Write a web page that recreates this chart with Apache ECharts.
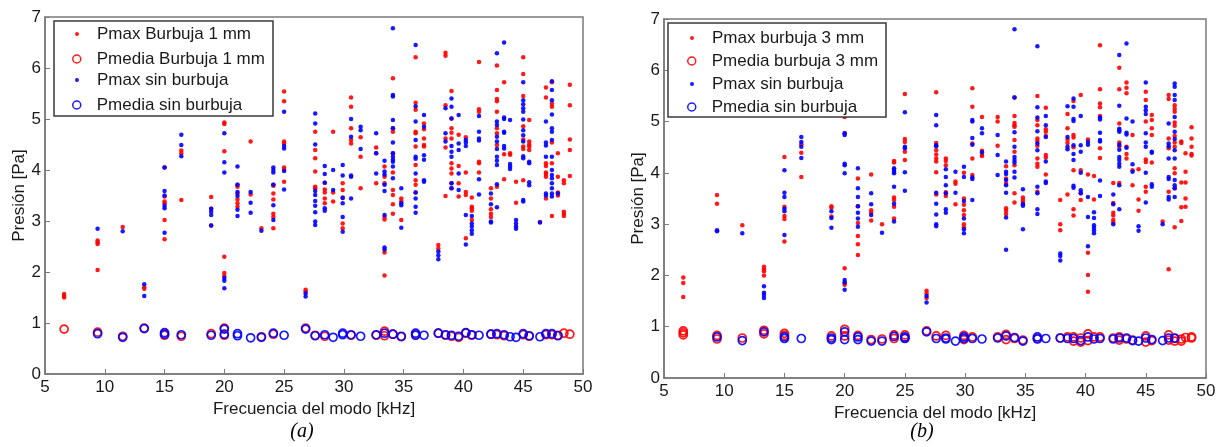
<!DOCTYPE html>
<html><head><meta charset="utf-8">
<script src="https://cdn.jsdelivr.net/npm/echarts@6/dist/echarts.min.js"></script>
<style>html,body{margin:0;padding:0;background:#fff}#c{width:1227px;height:447px}</style>
</head><body><div id="c"></div>
<script>
// x ticks / y ticks
const xTicks = [5,10,15,20,25,30,35,40,45,50];
const yTicks = [0,1,2,3,4,5,6,7];
const seriesNamesA = ['Pmax Burbuja 1 mm','Pmedia Burbuja 1 mm','Pmax sin burbuja','Pmedia sin burbuja'];
const seriesNamesB = ['Pmax burbuja 3 mm','Pmedia burbuja 3 mm','Pmax sin burbuja','Pmedia sin burbuja'];

// Panel (a): [frequency kHz, [pressures Pa]]
const aPmaxB1 = [
[6.6,[1.50,1.53,1.57]],[9.4,[2.62,2.58,2.55,2.04]],[11.5,[2.88]],[13.3,[1.70,1.67]],
[15.0,[4.05,3.48,3.38,3.35,3.02,2.64]],[16.4,[4.38,4.33,3.41]],[18.9,[3.47,3.24,2.91]],
[20.0,[4.93,4.90,4.37,2.30,1.98,1.92]],[21.1,[3.71,3.67,3.54,3.42,3.35,3.28]],[22.2,[4.56,3.52]],
[23.1,[2.86]],[24.1,[3.71,3.69,3.54,3.42,3.14,3.08,2.86]],[25.0,[5.54,5.35,4.56,4.52,4.05,4.00,3.77]],
[26.8,[1.65,1.62]],[27.6,[4.75,4.39,4.23,3.97,3.67,3.64]],[28.4,[3.75,3.62,3.56,3.44,3.35]],
[29.1,[4.75,3.56,3.38]],[29.9,[3.74,3.61,3.46,2.95,2.86]],[30.6,[5.42,5.24,4.82,4.59,4.52]],
[31.4,[4.64,4.26,3.64]],[32.7,[4.44,4.33,3.74]],[33.4,[4.07,3.87,3.74,3.08,3.03,2.38,1.93]],
[34.1,[5.80,4.82,4.75,4.33,3.95,3.61,3.51,3.33,3.14]],[34.8,[3.44,3.38,3.02]],
[36.0,[6.21,5.32,5.18,4.75,4.72,4.46,4.10,3.80,3.71,3.56]],[36.7,[4.91,4.80,4.62,4.49,4.46]],
[37.9,[2.53,2.46]],[38.5,[6.30,6.24,5.27,4.62,4.44,3.49]],
[39.0,[5.55,5.01,4.82,4.73,4.62,4.13,4.03,3.93,3.74,3.64]],[39.6,[4.69,4.08,3.74,3.48]],
[40.2,[4.64,3.95,3.57,3.51,2.66]],[40.7,[3.46,3.28,3.25,3.20,3.02]],[41.3,[6.12,5.19,5.14,4.16,4.13,3.95]],
[42.3,[3.64,3.44,3.23,3.14,3.08]],[42.8,[6.05,5.57,5.39,5.35,5.14,4.82,4.72,4.49,3.67]],
[43.4,[5.72,4.31,3.82]],[43.9,[4.33,4.30]],[44.4,[3.77,3.36]],[45.0,[6.21,5.88,5.45,4.86,4.60,4.46,4.41,3.80]],
[45.5,[4.98,4.56,4.50,4.46,4.39]],[46.4,[2.98]],[46.9,[5.62,5.42,4.13,4.08,3.95,3.92,3.87,3.44]],
[47.4,[5.72,5.30,5.24,4.54,4.13,3.10]],[47.9,[4.33,3.87,3.56,3.50]],[48.4,[3.80,3.74,3.18,3.14,3.10]],
[48.9,[5.67,5.27,4.60,4.39,3.88]]
];
const aPmediaB1 = [
[6.6,[0.88]],[9.4,[0.82]],[11.5,[0.74]],[13.3,[0.90]],[15.0,[0.76]],[16.4,[0.74]],[18.9,[0.79]],
[20.0,[0.90,0.76]],[23.1,[0.73]],[24.1,[0.78]],[26.8,[0.90]],[27.6,[0.76]],[28.4,[0.74]],[30.6,[0.76]],
[32.7,[0.76]],[33.4,[0.84,0.75]],[34.1,[0.78]],[34.8,[0.73]],[36.0,[0.77]],[37.9,[0.80]],[38.5,[0.76]],
[39.0,[0.74]],[39.6,[0.72]],[40.2,[0.80]],[40.7,[0.76]],[42.3,[0.78]],[42.8,[0.77]],[43.4,[0.75]],
[45.0,[0.77]],[45.5,[0.74]],[46.9,[0.77]],[47.4,[0.77]],[47.9,[0.76]],[48.4,[0.80]],[48.9,[0.78]]
];
const aPmaxSin = [
[9.4,[2.85]],[11.5,[2.80]],[13.3,[1.76,1.53]],[15.0,[4.05,3.59,3.50,3.30,3.25,2.77]],[16.4,[4.69,4.49,4.27]],
[18.9,[3.24,3.18,3.12,2.91]],[20.0,[4.72,4.15,3.95,1.88,1.83,1.68]],[21.1,[4.07,3.71,3.57,3.49,3.22,3.10]],
[22.2,[3.57,3.36,3.16]],[23.1,[2.81]],[24.1,[4.05,4.00,3.95,3.71,3.31,3.02]],[25.0,[5.14,4.47,4.42,3.98,3.62]],
[26.8,[1.58,1.52]],[27.6,[5.11,4.91,4.50,3.59,3.51,3.39,3.30,3.17,2.99,2.92]],[28.4,[4.08,3.92,3.75,3.25,3.20]],
[29.1,[4.00,3.61]],[29.9,[4.10,3.89,3.45,3.35,3.08,2.79]],[30.6,[5.00,4.65,3.89,3.87,3.44]],
[31.4,[4.85,4.78,4.41]],[32.7,[4.72,4.33,3.93]],[33.4,[4.18,3.97,3.91,3.71,3.59,3.12,2.48,2.44]],
[34.1,[6.78,5.47,5.44,4.98,4.82,4.54,4.33,4.26,4.20,4.16,4.07,3.84]],[34.8,[3.64,3.35,3.31,2.87]],
[36.0,[6.45,5.25,4.95,4.59,4.26,4.22,3.93,3.56,3.44,3.28,3.16]],[36.7,[5.08,4.85,4.29,4.20,3.80,3.77]],
[37.9,[2.40,2.33,2.25]],[38.5,[5.21,4.72,4.56]],[39.0,[5.40,5.24,5.01,4.47,4.36,4.26,3.74,3.64]],
[39.6,[5.08,4.52,4.39,3.93,3.61]],[40.2,[4.59,4.54,4.47,3.12,2.54]],[40.7,[3.10,2.95,2.89,2.82,2.75]],
[41.3,[5.06,4.75,4.62,4.58,3.82,3.52]],[42.3,[3.54,3.33,2.99,2.97]],
[42.8,[6.29,4.95,4.88,4.65,4.56,4.41,4.26,4.18,4.10,3.72,3.27]],[43.4,[6.50,5.03,5.00,4.75,4.73,4.47,4.42]],
[43.9,[4.98,4.12,4.07,4.02]],[44.4,[3.02,2.95,2.89,2.85]],
[45.0,[5.72,5.37,5.29,5.21,5.14,4.99,4.78,4.68,4.56,4.27,4.23,3.41,3.38]],[45.5,[4.16,4.13,3.76,3.70]],
[46.4,[2.97]],[46.9,[4.95,4.54,4.48,4.26,3.54,3.50]],
[47.4,[5.74,5.57,5.37,5.09,4.82,4.75,4.59,4.26,4.00,3.90,3.84,3.74,3.64,3.54,3.48]],[47.9,[3.54]]
];
const aPmediaSin = [
[9.4,[0.79]],[11.5,[0.72]],[13.3,[0.89]],[15.0,[0.81,0.78]],[16.4,[0.77]],[18.9,[0.76]],[20.0,[0.88,0.78]],
[21.1,[0.79,0.75]],[22.2,[0.71]],[23.1,[0.72]],[24.1,[0.80]],[25.0,[0.76]],[26.8,[0.88]],[27.6,[0.75]],
[28.4,[0.77]],[29.1,[0.72]],[29.9,[0.80,0.77]],[30.6,[0.77]],[31.4,[0.74]],[32.7,[0.77]],[33.4,[0.80]],
[34.1,[0.78]],[34.8,[0.74]],[36.0,[0.80,0.76]],[36.7,[0.76]],[37.9,[0.80]],[38.5,[0.77]],[39.0,[0.76]],
[39.6,[0.74]],[40.2,[0.81]],[40.7,[0.77]],[41.3,[0.76]],[42.3,[0.78]],[42.8,[0.79]],[43.4,[0.77]],
[43.9,[0.73]],[44.4,[0.72]],[45.0,[0.79]],[45.5,[0.75]],[46.4,[0.73]],[46.9,[0.79]],[47.4,[0.79]],[47.9,[0.75]]
];

// Panel (b)
const bPmaxB3 = [
[6.6,[1.96,1.85,1.58]],[9.4,[3.57,3.40]],[11.5,[2.98]],[13.3,[2.17,2.12,2.08,2.00]],
[15.0,[4.31,3.34,3.16,3.10,2.66]],[16.4,[4.56,4.39,3.92]],[18.9,[3.35,3.32,3.15]],
[20.0,[5.09,4.77,2.14,1.85,1.82]],[21.1,[3.89,3.35,3.02,2.77,2.61,2.40]],[22.2,[3.97,3.27,3.22,3.07]],
[23.1,[3.00]],[24.1,[4.23,4.20,3.52,3.47,3.34,3.11]],[25.0,[5.54,4.66,4.60,4.41,4.25]],
[26.8,[1.70,1.65,1.56]],[27.6,[5.57,4.58,4.44,4.36,4.28,4.22,4.01,3.58]],[28.4,[4.28,4.23,4.15,3.62,3.55]],
[29.2,[3.83,3.79,3.39]],[29.9,[4.00,3.50,3.38,3.27,3.18,3.00,2.94]],[30.6,[5.65,5.29,4.57,4.28,3.96]],
[31.4,[5.09,4.43,4.35,4.33]],[32.7,[5.09,5.00,4.53]],[33.4,[4.13,3.89,3.79,3.31,3.26,3.20]],
[34.1,[5.47,5.11,4.97,4.93,4.90,4.64,4.41,4.15,3.60,3.42]],[34.8,[3.52,3.47,3.42]],
[36.0,[5.50,5.03,4.93,4.67,4.62,4.53,4.28,4.18,4.12,3.63]],[36.7,[5.27,4.85,4.80,4.72,4.35,4.30,3.97]],
[37.9,[3.47,3.00,2.88]],[38.5,[5.15,4.87,4.65,4.58,3.58]],[39.0,[5.40,4.74,4.69,4.50,4.05,3.29,3.17]],
[39.6,[5.52,4.05,3.60,3.47]],[40.2,[4.65,3.97,2.44,2.01,1.68]],[40.7,[3.94,3.48]],
[41.2,[6.49,5.63,5.35,5.28,5.11,4.48,4.29]],[42.3,[3.80,3.41,3.22,3.17,3.08,3.03]],
[42.8,[6.05,5.63,4.96,4.59,4.52,3.80]],[43.4,[5.76,5.66,5.55,4.51,4.37,4.28]],[43.9,[4.74,4.05,3.76]],
[44.4,[4.07,3.48,3.26]],[45.0,[5.58,5.42,5.00,4.26,4.21,3.73,3.63]],[45.5,[5.13,5.03,4.87,4.74,4.20]],
[46.4,[3.05]],[46.9,[5.52,5.44,4.67,4.48,3.63,2.12]],
[47.4,[5.32,5.25,5.19,4.98,4.92,4.72,4.59,4.51,4.09,3.99,3.70,2.94]],[47.95,[4.61,4.58,3.81,3.33,3.06]],
[48.3,[4.38,4.02,3.81,3.50,3.34]],[48.8,[4.89,4.67,4.51,4.37,4.34]]
];
const bPmediaB3 = [
[6.6,[0.92,0.88,0.84]],[9.4,[0.83,0.76]],[11.5,[0.78]],[13.3,[0.93,0.86]],[15.0,[0.87,0.83]],[18.9,[0.82]],
[20.0,[0.95,0.82]],[21.1,[0.83]],[22.2,[0.75]],[23.1,[0.76]],[24.1,[0.84,0.77]],[25.0,[0.84,0.78]],
[26.8,[0.92]],[27.6,[0.82]],[28.4,[0.83]],[29.9,[0.83,0.75]],[30.6,[0.80]],[32.7,[0.80]],[33.4,[0.85,0.75]],
[34.1,[0.77]],[34.8,[0.74]],[36.0,[0.77]],[37.9,[0.78]],[38.5,[0.80]],[39.0,[0.80,0.72]],[39.6,[0.78,0.70]],
[40.2,[0.86,0.73]],[40.7,[0.80]],[41.2,[0.80]],[42.3,[0.78]],[42.8,[0.80,0.74]],[43.4,[0.76]],[43.9,[0.74]],
[45.0,[0.82,0.70]],[45.5,[0.73]],[46.9,[0.84,0.74]],[47.4,[0.77,0.72]],[47.95,[0.76,0.72]],[48.3,[0.79]],
[48.8,[0.80,0.78]]
];
const bPmaxSin = [
[9.4,[2.88,2.86]],[11.5,[2.82]],[13.3,[1.79,1.66,1.62,1.56]],[15.0,[4.05,3.61,3.53,3.30,3.25,2.79]],
[16.4,[4.70,4.60,4.51,4.29]],[18.9,[3.25,3.12,2.93]],[20.0,[4.77,4.74,4.18,4.15,3.99,1.91,1.86,1.72]],
[21.1,[4.09,3.70,3.53,3.35,3.22,3.11,2.95]],[22.2,[3.60,3.39,3.18]],[23.1,[2.83]],
[24.1,[4.09,4.06,4.02,3.99,3.73,3.40,3.05]],[25.0,[5.18,4.51,4.48,4.01,3.65]],[26.8,[1.60,1.47]],
[27.6,[5.13,4.93,4.54,4.52,3.61,3.40,3.19,3.00,2.96]],[28.4,[4.07,3.92,3.76,3.60,3.29,3.22]],
[29.2,[4.02,3.61]],[29.9,[4.12,3.92,3.45,3.11,2.90,2.82]],[30.6,[5.03,5.00,4.68,4.55,3.91,3.88,3.47]],
[31.4,[4.87,4.77,4.40]],[32.7,[4.74,4.35,3.96]],[33.4,[4.22,4.02,3.98,3.86,3.76,3.61,3.13,2.50]],
[34.1,[6.80,5.47,4.79,4.51,4.31,4.25,4.20,4.02,3.91]],[34.8,[3.68,3.39,3.36,2.90]],
[36.0,[6.47,5.28,5.08,4.81,4.57,4.44,3.73,3.60,3.29,3.20]],[36.7,[5.11,4.93,4.70,4.22,3.83,3.80]],
[37.9,[2.43,2.38,2.29]],[38.5,[5.30,4.70,4.51,4.46]],[39.0,[5.45,5.29,5.05,5.01,4.54,4.37,4.25,3.75,3.71]],
[39.6,[5.11,4.54,4.41,4.00,3.66,3.60]],[40.2,[4.60,4.55,3.53,3.14,2.57]],[40.7,[3.23,3.12,2.98,2.93,2.88,2.82]],
[41.2,[5.08,5.04,4.78,4.64,4.61,3.85,3.55]],[42.3,[3.58,3.39,3.00]],
[42.8,[6.30,5.31,4.86,4.83,4.80,4.55,4.45,4.31,4.25,4.18,4.12,3.76,3.29]],[43.4,[6.52,5.06,4.78,4.75,4.49]],
[43.9,[5.00,4.17,4.02]],[44.4,[2.96,2.87]],[45.0,[5.76,5.29,5.22,5.15,4.77,4.59,4.51,4.00,3.42]],
[45.5,[4.41,4.39,3.78,3.73]],[46.4,[3.00]],[46.9,[4.96,4.57,4.52,4.28,3.92,3.88,3.53,3.48]],
[47.4,[5.74,5.68,5.52,5.42,5.09,4.80,4.66,4.44,4.28,3.86,3.76,3.70,3.53]]
];
const bPmediaSin = [
[9.4,[0.80]],[11.5,[0.73]],[13.3,[0.90]],[15.0,[0.80,0.77]],[16.4,[0.77]],[18.9,[0.78,0.75]],[20.0,[0.90,0.75]],
[21.1,[0.80,0.75]],[22.2,[0.72]],[23.1,[0.72]],[24.1,[0.81]],[25.0,[0.80,0.77]],[26.8,[0.90]],[27.6,[0.77]],
[28.4,[0.78,0.76]],[29.2,[0.72]],[29.9,[0.80,0.77]],[30.6,[0.77]],[31.4,[0.76]],[32.7,[0.78]],[33.4,[0.82]],
[34.1,[0.79]],[34.8,[0.72]],[36.0,[0.80,0.76]],[36.7,[0.77]],[37.9,[0.78]],[38.5,[0.77]],[39.0,[0.77]],
[39.6,[0.73]],[40.2,[0.80]],[40.7,[0.76]],[41.2,[0.77]],[42.3,[0.76]],[42.8,[0.78]],[43.4,[0.78]],[43.9,[0.73]],
[44.4,[0.72]],[45.0,[0.78]],[45.5,[0.75]],[46.4,[0.73]],[46.9,[0.78]],[47.4,[0.78]]
];

function flat(cols){const out=[];cols.forEach(c=>c[1].forEach(v=>out.push([c[0],v])));return out;}

const RED='#ff0000', BLUE='#0000ff', AX='#7a7a7a', TXT='#1a1a1a';
const FONT='"Liberation Sans", Arial, sans-serif';

function xAxis(gi){return {type:'value',gridIndex:gi,min:5,max:50,interval:5,
  name:'Frecuencia del modo [kHz]',nameLocation:'middle',nameGap:25,
  nameTextStyle:{fontSize:17,color:TXT,fontFamily:FONT},
  axisLine:{show:true,lineStyle:{color:AX,width:1.5}},
  axisTick:{show:true,inside:true,length:5,lineStyle:{color:AX}},
  axisLabel:{fontSize:17,color:TXT,fontFamily:FONT,margin:5,showMinLabel:true,showMaxLabel:true},
  splitLine:{show:false}};}
function yAxis(gi){return {type:'value',gridIndex:gi,min:0,max:7,interval:1,
  name:'Presión [Pa]',nameLocation:'middle',nameGap:16,
  nameTextStyle:{fontSize:17,color:TXT,fontFamily:FONT},
  axisLine:{show:true,lineStyle:{color:AX,width:1.5}},
  axisTick:{show:true,inside:true,length:5,lineStyle:{color:AX}},
  axisLabel:{fontSize:17,color:TXT,fontFamily:FONT,margin:4},
  splitLine:{show:false}};}

function dotSeries(name,gi,data,color){return {type:'scatter',name,xAxisIndex:gi,yAxisIndex:gi,
  data:flat(data),symbol:'circle',symbolSize:4.5,itemStyle:{color,opacity:0.9},z:2};}
function ringSeries(name,gi,data,color){return {type:'scatter',name,xAxisIndex:gi,yAxisIndex:gi,
  data:flat(data),symbol:'circle',symbolSize:8,itemStyle:{color:'rgba(0,0,0,0)',borderColor:color,borderWidth:1.7,opacity:0.9},z:2};}

function legendDots(names,colors,left,top){return {orient:'vertical',left,top,itemWidth:30,itemHeight:4,itemGap:26,
  selectedMode:false,symbolKeepAspect:true,
  textStyle:{fontSize:17,color:TXT,fontFamily:FONT,lineHeight:20},
  data:names.map((n,i)=>({name:n,icon:'circle',itemStyle:{color:colors[i],borderWidth:0}}))};}
function legendRings(names,colors,left,top){return {orient:'vertical',left,top,itemWidth:30,itemHeight:8,itemGap:26,
  selectedMode:false,symbolKeepAspect:true,
  textStyle:{fontSize:17,color:TXT,fontFamily:FONT,lineHeight:20},
  data:names.map((n,i)=>({name:n,icon:'circle',itemStyle:{color:'rgba(0,0,0,0)',borderColor:colors[i],borderWidth:1.5}}))};}

const chart = echarts.init(document.getElementById('c'),null,{renderer:'canvas'});
chart.setOption({
  animation:false,
  backgroundColor:'#fff',
  grid:[
    {left:45,top:17,width:538,height:357,show:true,borderColor:AX,borderWidth:1.5,backgroundColor:'#fff'},
    {left:664,top:19,width:542,height:359,show:true,borderColor:AX,borderWidth:1.5,backgroundColor:'#fff'}
  ],
  xAxis:[xAxis(0),xAxis(1)],
  yAxis:[yAxis(0),yAxis(1)],
  legend:[
    legendDots([seriesNamesA[0],seriesNamesA[2]],[RED,BLUE],70,19),
    legendRings([seriesNamesA[1],seriesNamesA[3]],[RED,BLUE],67,44),
    legendDots([seriesNamesB[0],seriesNamesB[2]],[RED,BLUE],685,23),
    legendRings([seriesNamesB[1],seriesNamesB[3]],[RED,BLUE],682,46)
  ],
  graphic:[
    {type:'rect',z:3,shape:{x:54,y:21,width:219,height:95},style:{fill:'#fff',stroke:'#3a3a3a',lineWidth:1.5}},
    {type:'rect',z:3,shape:{x:668,y:23,width:218,height:94},style:{fill:'#fff',stroke:'#3a3a3a',lineWidth:1.5}},
    {type:'text',z:3,x:302,y:432,style:{text:'(a)',fontSize:20,fontStyle:'italic',fontFamily:'"Liberation Serif","DejaVu Serif",serif',fill:'#000',textAlign:'center',textVerticalAlign:'middle'}},
    {type:'text',z:3,x:922,y:432,style:{text:'(b)',fontSize:20,fontStyle:'italic',fontFamily:'"Liberation Serif","DejaVu Serif",serif',fill:'#000',textAlign:'center',textVerticalAlign:'middle'}}
  ],
  series:[
    dotSeries(seriesNamesA[0],0,aPmaxB1,RED),
    ringSeries(seriesNamesA[1],0,aPmediaB1,RED),
    dotSeries(seriesNamesA[2],0,aPmaxSin,BLUE),
    ringSeries(seriesNamesA[3],0,aPmediaSin,BLUE),
    dotSeries(seriesNamesB[0],1,bPmaxB3,RED),
    ringSeries(seriesNamesB[1],1,bPmediaB3,RED),
    dotSeries(seriesNamesB[2],1,bPmaxSin,BLUE),
    ringSeries(seriesNamesB[3],1,bPmediaSin,BLUE)
  ]
});
</script></body></html>
